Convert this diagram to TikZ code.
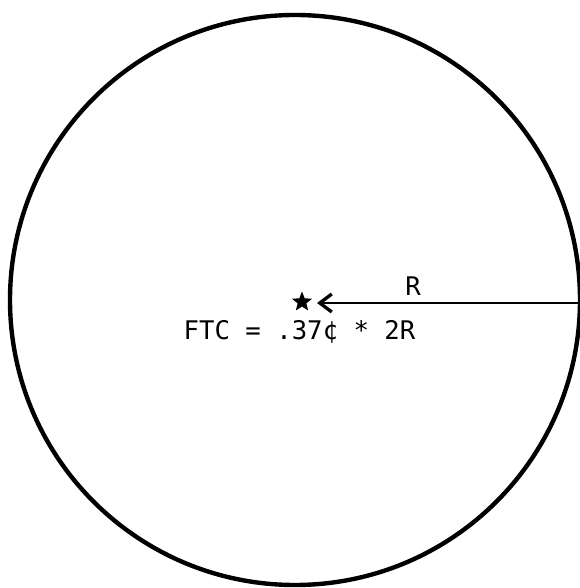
\documentclass[tikz,border=0pt]{standalone}
\usepackage{fontspec}
\setmonofont{DejaVu Sans Mono}
\usetikzlibrary{arrows.meta,shapes.geometric}

\begin{document}
\begin{tikzpicture}[line join=round, line cap=round,
    rim/.style={line width=2.5pt},
    radius line/.style={line width=1.1pt, -{Straight Barb[length=0.24cm, width=0.36cm, line width=1.9pt]}},
    label text/.style={font=\fontsize{14.6}{17}\selectfont\ttfamily, inner sep=0pt}]
  \useasboundingbox (-5.90,-5.76) rectangle (5.68,6.0);

  % Circle
  \draw[rim] (0,0) circle (5.7);

  % Centre star and radius R
  \node[star, star points=5, star point ratio=2.3, fill, minimum size=0.42cm, inner sep=0pt] (ctr) at (0.14,-0.04) {};
  \coordinate (edge) at (5.72,-0.06);
  \coordinate (tip) at (0.44,-0.06);
  \draw[radius line] (edge) -- (tip);
  \node[label text, anchor=base] (rlab) at (2.36,0.08) {R};

  % Formula
  \node[label text, anchor=base] (ftc) at (0.09,-0.80) {FTC = .37¢ * 2R};
\end{tikzpicture}
\end{document}
